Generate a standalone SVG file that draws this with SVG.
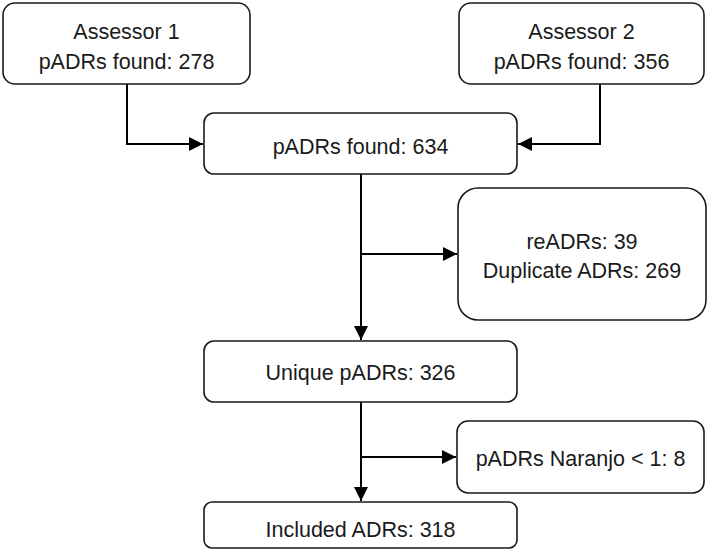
<svg xmlns="http://www.w3.org/2000/svg" width="709" height="551" viewBox="0 0 709 551">
<defs>
<marker id="arr" markerUnits="userSpaceOnUse" markerWidth="15" markerHeight="14" refX="14" refY="7" orient="auto">
<path d="M0,0 L14,7 L0,14 Z" fill="#000"/>
</marker>
<style>
.box{fill:#fff;stroke:#1a1a1a;stroke-width:1.6}
.t{font-family:"Liberation Sans",Arial,sans-serif;font-size:21.5px;fill:#1a1a1a;text-anchor:middle}
.c{fill:none;stroke:#000;stroke-width:2;marker-end:url(#arr)}
</style>
</defs>
<rect width="709" height="551" fill="#fff"/>
<g id="connectors">
<path class="c" d="M127,84 V144 H203"/>
<path class="c" d="M600,84 V144 H518"/>
<path class="c" d="M361,174 V340"/>
<path class="c" d="M361,254 H457"/>
<path class="c" d="M361,402 V501"/>
<path class="c" d="M361,457 H456"/>
</g>
<g id="assessor1">
<rect class="box" x="3" y="3" width="247" height="81" rx="12"/>
<text class="t" x="126.5" y="39">Assessor 1</text>
<text class="t" x="126.5" y="69">pADRs found: 278</text>
</g>
<g id="assessor2">
<rect class="box" x="459" y="3" width="245" height="81" rx="12"/>
<text class="t" x="581.5" y="39">Assessor 2</text>
<text class="t" x="581.5" y="69">pADRs found: 356</text>
</g>
<g id="found">
<rect class="box" x="204" y="113" width="313" height="61" rx="10"/>
<text class="t" x="360.5" y="154">pADRs found: 634</text>
</g>
<g id="excluded1">
<rect class="box" x="458" y="188" width="248" height="132" rx="20"/>
<text class="t" x="582" y="249">reADRs: 39</text>
<text class="t" x="582" y="278">Duplicate ADRs: 269</text>
</g>
<g id="unique">
<rect class="box" x="204" y="341" width="313" height="61" rx="10"/>
<text class="t" x="360.5" y="380">Unique pADRs: 326</text>
</g>
<g id="naranjo">
<rect class="box" x="457" y="421" width="247" height="72" rx="11"/>
<text class="t" x="580.5" y="466">pADRs Naranjo &lt; 1: 8</text>
</g>
<g id="included">
<rect class="box" x="204" y="502" width="313" height="46" rx="8"/>
<text class="t" x="360.5" y="537">Included ADRs: 318</text>
</g>
</svg>
